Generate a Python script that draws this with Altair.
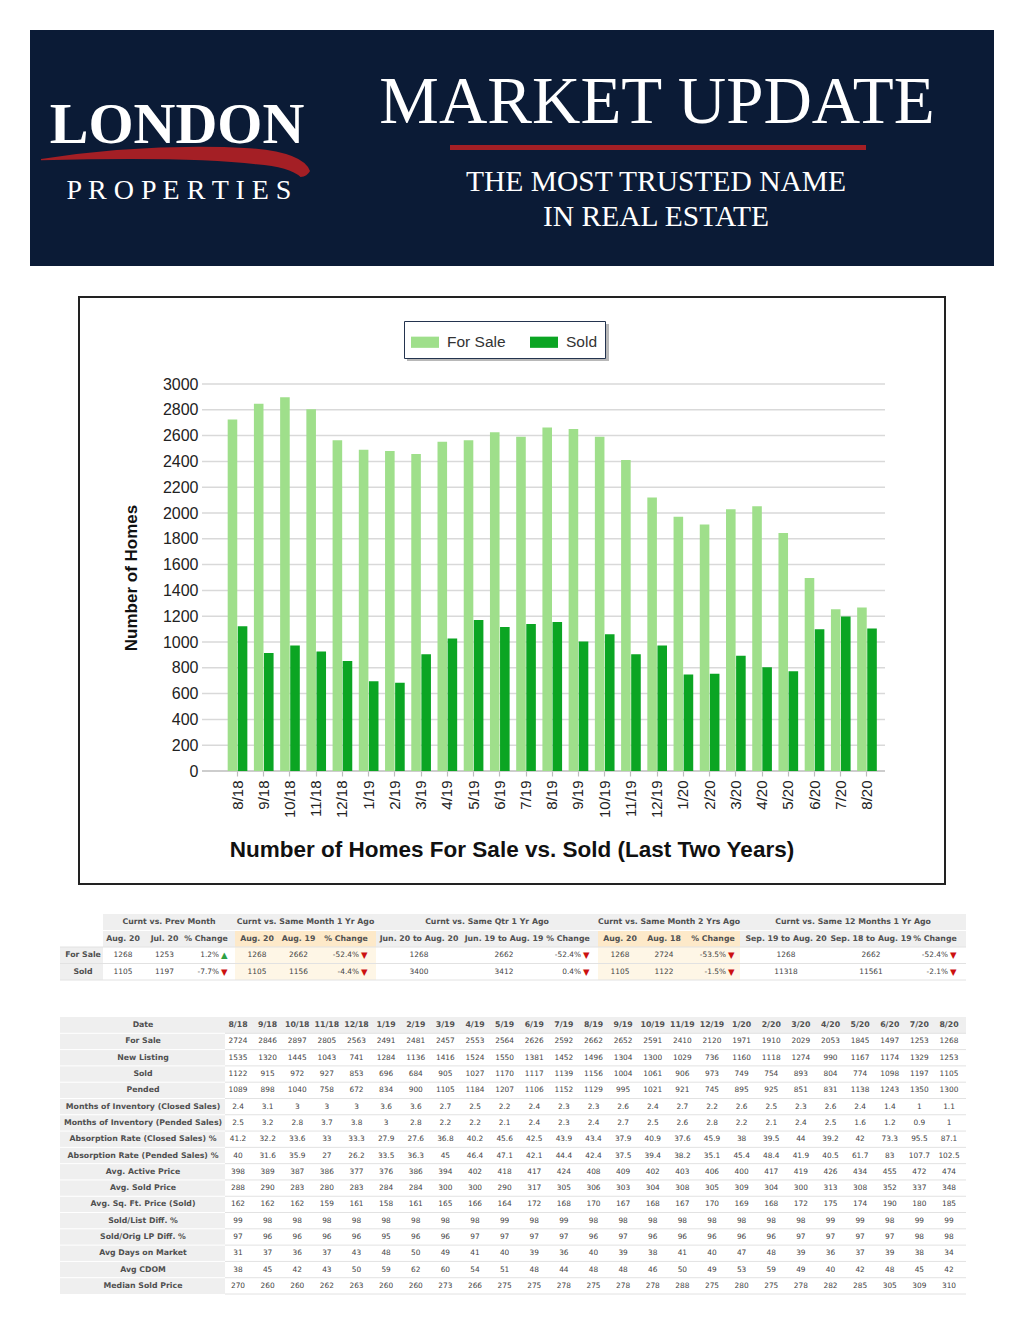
import altair as alt
import pandas as pd

# ---------------- data ----------------
DATES = ["8/18", "9/18", "10/18", "11/18", "12/18", "1/19", "2/19", "3/19", "4/19",
         "5/19", "6/19", "7/19", "8/19", "9/19", "10/19", "11/19", "12/19", "1/20",
         "2/20", "3/20", "4/20", "5/20", "6/20", "7/20", "8/20"]
SERIES = ["For Sale", "Sold"]
FOR_SALE = [2724, 2846, 2897, 2805, 2563, 2491, 2481, 2457, 2553, 2564, 2626, 2592, 2662,
            2652, 2591, 2410, 2120, 1971, 1910, 2029, 2053, 1845, 1497, 1253, 1268]
SOLD = [1122, 915, 972, 927, 853, 696, 684, 905, 1027, 1170, 1117, 1139, 1156, 1004,
        1061, 906, 973, 749, 754, 893, 804, 774, 1098, 1197, 1105]
Y_TICKS = [0, 200, 400, 600, 800, 1000, 1200, 1400, 1600, 1800, 2000, 2200, 2400,
           2600, 2800, 3000]

# summary table
T1_GROUPS = ["Curnt vs. Prev Month", "Curnt vs. Same Month 1 Yr Ago",
             "Curnt vs. Same Qtr 1 Yr Ago", "Curnt vs. Same Month 2 Yrs Ago",
             "Curnt vs. Same 12 Months 1 Yr Ago"]
T1_SUB = [["Aug. 20", "Jul. 20", "% Change"],
          ["Aug. 20", "Aug. 19", "% Change"],
          ["Jun. 20 to Aug. 20", "Jun. 19 to Aug. 19", "% Change"],
          ["Aug. 20", "Aug. 18", "% Change"],
          ["Sep. 19 to Aug. 20", "Sep. 18 to Aug. 19", "% Change"]]
T1_ROW_LABELS = ["For Sale", "Sold"]
T1_FOR_SALE = [["1268", "1253", "1.2%"], ["1268", "2662", "-52.4%"],
               ["1268", "2662", "-52.4%"], ["1268", "2724", "-53.5%"],
               ["1268", "2662", "-52.4%"]]
T1_SOLD = [["1105", "1197", "-7.7%"], ["1105", "1156", "-4.4%"],
           ["3400", "3412", "0.4%"], ["1105", "1122", "-1.5%"],
           ["11318", "11561", "-2.1%"]]
T1_FOR_SALE_DIR = ["up", "down", "down", "down", "down"]
T1_SOLD_DIR = ["down", "down", "down", "down", "down"]

# detail table
T2_LABELS = ["For Sale", "New Listing", "Sold", "Pended",
             "Months of Inventory (Closed Sales)", "Months of Inventory (Pended Sales)",
             "Absorption Rate (Closed Sales) %", "Absorption Rate (Pended Sales) %",
             "Avg. Active Price", "Avg. Sold Price", "Avg. Sq. Ft. Price (Sold)",
             "Sold/List Diff. %", "Sold/Orig LP Diff. %", "Avg Days on Market",
             "Avg CDOM", "Median Sold Price"]
NEW_LISTING = [1535, 1320, 1445, 1043, 741, 1284, 1136, 1416, 1524, 1550, 1381, 1452, 1496,
               1304, 1300, 1029, 736, 1160, 1118, 1274, 990, 1167, 1174, 1329, 1253]
PENDED = [1089, 898, 1040, 758, 672, 834, 900, 1105, 1184, 1207, 1106, 1152, 1129, 995,
          1021, 921, 745, 895, 925, 851, 831, 1138, 1243, 1350, 1300]
MOI_CLOSED = [2.4, 3.1, 3, 3, 3, 3.6, 3.6, 2.7, 2.5, 2.2, 2.4, 2.3, 2.3, 2.6, 2.4, 2.7, 2.2,
              2.6, 2.5, 2.3, 2.6, 2.4, 1.4, 1, 1.1]
MOI_PENDED = [2.5, 3.2, 2.8, 3.7, 3.8, 3, 2.8, 2.2, 2.2, 2.1, 2.4, 2.3, 2.4, 2.7, 2.5, 2.6,
              2.8, 2.2, 2.1, 2.4, 2.5, 1.6, 1.2, 0.9, 1]
ABS_CLOSED = [41.2, 32.2, 33.6, 33, 33.3, 27.9, 27.6, 36.8, 40.2, 45.6, 42.5, 43.9, 43.4,
              37.9, 40.9, 37.6, 45.9, 38, 39.5, 44, 39.2, 42, 73.3, 95.5, 87.1]
ABS_PENDED = [40, 31.6, 35.9, 27, 26.2, 33.5, 36.3, 45, 46.4, 47.1, 42.1, 44.4, 42.4, 37.5,
              39.4, 38.2, 35.1, 45.4, 48.4, 41.9, 40.5, 61.7, 83, 107.7, 102.5]
AVG_ACTIVE = [398, 389, 387, 386, 377, 376, 386, 394, 402, 418, 417, 424, 408, 409, 402, 403,
              406, 400, 417, 419, 426, 434, 455, 472, 474]
AVG_SOLD = [288, 290, 283, 280, 283, 284, 284, 300, 300, 290, 317, 305, 306, 303, 304, 308,
            305, 309, 304, 300, 313, 308, 352, 337, 348]
AVG_SQFT = [162, 162, 162, 159, 161, 158, 161, 165, 166, 164, 172, 168, 170, 167, 168, 167,
            170, 169, 168, 172, 175, 174, 190, 180, 185]
SOLD_LIST = [99, 98, 98, 98, 98, 98, 98, 98, 98, 99, 98, 99, 98, 98, 98, 98, 98, 98, 98, 98,
             99, 99, 98, 99, 99]
SOLD_ORIG = [97, 96, 96, 96, 96, 95, 96, 96, 97, 97, 97, 97, 96, 97, 96, 96, 96, 96, 96, 97,
             97, 97, 97, 98, 98]
DOM = [31, 37, 36, 37, 43, 48, 50, 49, 41, 40, 39, 36, 40, 39, 38, 41, 40, 47, 48, 39, 36,
       37, 39, 38, 34]
CDOM = [38, 45, 42, 43, 50, 59, 62, 60, 54, 51, 48, 44, 48, 48, 46, 50, 49, 53, 59, 49, 40,
        42, 48, 45, 42]
MEDIAN_SOLD = [270, 260, 260, 262, 263, 260, 260, 273, 266, 275, 275, 278, 275, 278, 278,
               288, 275, 280, 275, 278, 282, 285, 305, 309, 310]
T2_VALUES = [FOR_SALE, NEW_LISTING, SOLD, PENDED, MOI_CLOSED, MOI_PENDED, ABS_CLOSED,
             ABS_PENDED, AVG_ACTIVE, AVG_SOLD, AVG_SQFT, SOLD_LIST, SOLD_ORIG, DOM, CDOM,
             MEDIAN_SOLD]

# ---------------- style ----------------
W, H = 1008, 1309


def px(v):
    return v - 8  # page pixel -> canvas pixel


NARROW = "Liberation Sans Narrow, Arial Narrow, Liberation Sans, sans-serif"
SANS = "Liberation Sans, Arial, sans-serif"
SERIF = "Liberation Serif, DejaVu Serif, serif"
TFONT = "DejaVu Sans, Verdana, sans-serif"
NAVY = "#0b1b36"
RED = "#a41f25"
LIGHT_GREEN = "#9fdf8b"
DARK_GREEN = "#0ba523"
GRAY = "#efefef"
ORANGE_H = "#fde9c9"
ORANGE_L = "#fef6e6"
SEP = "#e2e2e2"
LBL = "#505050"
VAL = "#444444"
TB, TN = 7.8, 7.4

one = pd.DataFrame({"a": [0]})


def fixed_text(text, x, y, size, font, color, weight="normal", align="center",
               baseline="alphabetic"):
    return alt.Chart(pd.DataFrame({"t": [text]})).mark_text(
        font=font, fontSize=size, fontWeight=weight, color=color, align=align,
        baseline=baseline).encode(x=alt.value(px(x)), y=alt.value(px(y)), text="t:N")


def deco_rect(x1, x2, y1, y2, **kw):
    return alt.Chart(one).mark_rect(**kw).encode(
        x=alt.value(px(x1)), x2=alt.value(px(x2)), y=alt.value(px(y1)), y2=alt.value(px(y2)))


layers = []

# ---------------- banner ----------------
layers.append(deco_rect(30, 994, 30, 266, fill=NAVY))
SWOOSH = ("M-1,-0.03 Q-0.2,-0.15 0.55,-0.11 Q0.95,-0.08 1,0.06 Q0.98,0.1 0.93,0.105 "
          "Q0.85,0.03 0.6,0.01 Q0.1,-0.05 -1,-0.02 Z")
layers.append(alt.Chart(one).mark_point(shape=SWOOSH, filled=True, color=RED, opacity=1,
                                        size=72361, strokeWidth=0).encode(
    x=alt.value(px(175.5)), y=alt.value(px(163))))
layers.append(fixed_text("LONDON", 177, 143, 58, SERIF, "white", weight="bold"))
layers.append(fixed_text("P R O P E R T I E S", 179, 199, 28, SERIF, "white"))
layers.append(fixed_text("MARKET UPDATE", 657, 123, 67, SERIF, "white"))
layers.append(deco_rect(450, 866, 145, 150, fill=RED))
layers.append(fixed_text("THE MOST TRUSTED NAME", 656, 191, 29.5, SERIF, "white"))
layers.append(fixed_text("IN REAL ESTATE", 656, 226, 29.5, SERIF, "white"))

# ---------------- bar chart ----------------
layers.append(deco_rect(79, 945, 297, 884, fill="white", stroke="#222222", strokeWidth=2))
# legend drop shadow
layers.append(deco_rect(407, 609, 324, 361, fill="#9a9a9a", opacity=0.7))

y_scale = alt.Scale(domain=[0, 3000], range=[px(771), px(384)], nice=False, zero=True)
grid_df = pd.DataFrame({"v": Y_TICKS})
layers.append(alt.Chart(grid_df).transform_filter("datum.v > 0").mark_rule(
    color="#d9d9d9", strokeWidth=1.5).encode(
    y=alt.Y("v:Q", scale=y_scale, axis=None), x=alt.value(px(202)), x2=alt.value(px(885))))
layers.append(alt.Chart(grid_df).transform_filter("datum.v == 0").mark_rule(
    color="#bdbdbd", strokeWidth=1.5).encode(
    y=alt.Y("v:Q", scale=y_scale, axis=None), x=alt.value(px(202)), x2=alt.value(px(885))))

bar_df = pd.DataFrame({
    "date": DATES * 2,
    "series": [SERIES[0]] * len(DATES) + [SERIES[1]] * len(DATES),
    "value": FOR_SALE + SOLD,
})
bars = alt.Chart(bar_df).mark_bar().encode(
    x=alt.X("date:N", sort=DATES,
            scale=alt.Scale(type="band", domain=DATES, range=[px(224.4), px(880.1)],
                            paddingInner=0.25, paddingOuter=0.125),
            axis=alt.Axis(orient="bottom", title=None, offset=px(771) - H, domain=False,
                          ticks=True, tickColor="#bdbdbd", tickSize=5, tickWidth=1.2,
                          labelAngle=-90, labelPadding=4, labelFont=NARROW,
                          labelFontSize=15, labelColor="#222222", labelOverlap=False,
                          labelBound=False, grid=False, zindex=2)),
    xOffset=alt.XOffset("series:N", sort=SERIES,
                        scale=alt.Scale(domain=SERIES, paddingInner=0.05)),
    y=alt.Y("value:Q", scale=y_scale,
            axis=alt.Axis(orient="left", values=Y_TICKS, format="d", offset=-px(202),
                          domain=False, ticks=False, tickSize=0, labelPadding=4,
                          labelFont=NARROW, labelFontSize=16, labelColor="#222222",
                          grid=False, title="Number of Homes", titleFont=SANS,
                          titleFontSize=17, titleFontWeight="bold", titleColor="#111111",
                          titleX=-62, zindex=2)),
    color=alt.Color("series:N", sort=SERIES,
                    scale=alt.Scale(domain=SERIES, range=[LIGHT_GREEN, DARK_GREEN]),
                    legend=alt.Legend(orient="none", legendX=px(404), legendY=px(321),
                                      direction="horizontal", title=None,
                                      symbolType="M-1,-0.4H1V0.4H-1Z", symbolSize=784,
                                      symbolStrokeWidth=0, labelFont=NARROW,
                                      labelFontSize=15.5, labelColor="#333333",
                                      labelOffset=8, columnPadding=24, padding=7,
                                      strokeColor="#24344f", fillColor="white")),
)
layers.append(bars)
layers.append(fixed_text("Number of Homes For Sale vs. Sold (Last Two Years)", 512, 857,
                         22.5, SANS, "#111111", weight="bold"))

# ---------------- summary table ----------------
T1_ROWS = [0, 1, 2, 3]
t1_band = alt.Scale(type="band", domain=T1_ROWS, range=[px(914), px(980)],
                    paddingInner=0, paddingOuter=0)
t1_pt = alt.Scale(type="point", domain=T1_ROWS, range=[px(922.25), px(971.75)], padding=0)
rows1 = pd.DataFrame({"row": T1_ROWS})


def band_rect(df, yscale, flt, x1, x2, fill):
    return alt.Chart(df).transform_filter(flt).mark_rect(fill=fill).encode(
        y=alt.Y("row:O", scale=yscale, axis=None), x=alt.value(px(x1)), x2=alt.value(px(x2)))


def band_sep(df, yscale, flt, x1, x2, color):
    return alt.Chart(df).transform_filter(flt).mark_rule(color=color, strokeWidth=1).encode(
        y=alt.Y("row:O", scale=yscale, axis=None, bandPosition=1),
        x=alt.value(px(x1)), x2=alt.value(px(x2)))


GROUP_SPANS = [(103, 235), (235, 376), (376, 598), (598, 740), (740, 966)]
COL_RANGES = [(123, 206), (257, 346), (419, 568), (620, 713), (786, 935)]
MID_COL_SHIFT = [0, -3, 10.5, -2.5, 10.5]
layers.append(band_rect(rows1, t1_band, "datum.row <= 1", 103, 966, GRAY))
layers.append(band_rect(rows1, t1_band, "datum.row >= 2", 60, 103, GRAY))
for g in (1, 3):
    x1, x2 = GROUP_SPANS[g]
    layers.append(band_rect(rows1, t1_band, "datum.row == 1", x1, x2, ORANGE_H))
    layers.append(band_rect(rows1, t1_band, "datum.row >= 2", x1, x2, ORANGE_L))
layers.append(band_sep(rows1, t1_band, "datum.row == 0", 103, 966, "white"))
layers.append(band_sep(rows1, t1_band, "datum.row >= 1", 60, 966, SEP))

t1_recs = []
for g in range(5):
    t1_recs.append({"grp": g, "row": 0, "col": 1, "text": T1_GROUPS[g], "kind": "group",
                    "dir": "", "arrow": ""})
    for c in range(3):
        t1_recs.append({"grp": g, "row": 1, "col": c, "text": T1_SUB[g][c], "kind": "sub",
                        "dir": "", "arrow": ""})
    for r, vals, dirs in ((2, T1_FOR_SALE, T1_FOR_SALE_DIR), (3, T1_SOLD, T1_SOLD_DIR)):
        for c in range(3):
            d = dirs[g] if c == 2 else ""
            t1_recs.append({"grp": g, "row": r, "col": c, "text": vals[g][c],
                            "kind": "pct" if c == 2 else "val", "dir": d,
                            "arrow": "\u25B2" if d == "up" else ("\u25BC" if d else "")})
t1 = pd.DataFrame(t1_recs)

for g in range(5):
    xs = alt.Scale(type="point", domain=[0, 1, 2], range=[px(COL_RANGES[g][0]),
                                                         px(COL_RANGES[g][1])], padding=0)
    enc = dict(x=alt.X("col:O", scale=xs, axis=None),
               y=alt.Y("row:O", scale=t1_pt, axis=None))
    base = alt.Chart(t1).transform_filter(f"datum.grp == {g}")
    mid = (COL_RANGES[g][0] + COL_RANGES[g][1]) / 2
    span_mid = (GROUP_SPANS[g][0] + GROUP_SPANS[g][1]) / 2
    layers.append(base.transform_filter("datum.kind == 'group'").mark_text(
        font=TFONT, fontSize=TB, fontWeight="bold", color=LBL, baseline="middle",
        dx=span_mid - mid).encode(text="text:N", **enc))
    for c in range(2):
        shift = MID_COL_SHIFT[g] if c == 1 else 0
        layers.append(base.transform_filter(f"datum.kind == 'sub' && datum.col == {c}")
                      .mark_text(font=TFONT, fontSize=TB, fontWeight="bold", color=LBL,
                                 baseline="middle", dx=shift).encode(text="text:N", **enc))
        layers.append(base.transform_filter(f"datum.kind == 'val' && datum.col == {c}")
                      .mark_text(font=TFONT, fontSize=TN, color=VAL, baseline="middle",
                                 dx=shift).encode(text="text:N", **enc))
    layers.append(base.transform_filter("datum.kind == 'sub' && datum.col == 2").mark_text(
        font=TFONT, fontSize=TB, fontWeight="bold", color=LBL, baseline="middle").encode(
        text="text:N", **enc))
    layers.append(base.transform_filter("datum.kind == 'pct'").mark_text(
        font=TFONT, fontSize=TN, color=VAL, baseline="middle", align="right", dx=13).encode(
        text="text:N", **enc))
    layers.append(base.transform_filter("datum.kind == 'pct'").mark_text(
        font=TFONT, fontSize=8.5, baseline="middle", align="left", dx=15).encode(
        text="arrow:N",
        color=alt.condition("datum.dir == 'up'", alt.value("#2ea043"), alt.value("#cc1010")),
        **enc))

t1_labels = pd.DataFrame({"row": [2, 3], "text": T1_ROW_LABELS})
layers.append(alt.Chart(t1_labels).mark_text(
    font=TFONT, fontSize=TB, fontWeight="bold", color=LBL, baseline="middle").encode(
    x=alt.value(px(83)), y=alt.Y("row:O", scale=t1_pt, axis=None), text="text:N"))

# ---------------- detail table ----------------
T2_ROWS = list(range(len(T2_LABELS) + 1))
t2_band = alt.Scale(type="band", domain=T2_ROWS, range=[px(1017), px(1294)],
                    paddingInner=0, paddingOuter=0)
t2_pt = alt.Scale(type="point", domain=T2_ROWS, range=[px(1025.15), px(1285.85)], padding=0)
t2_x = alt.Scale(type="point", domain=DATES, range=[px(238), px(949)], padding=0)
rows2 = pd.DataFrame({"row": T2_ROWS})
layers.append(band_rect(rows2, t2_band, "datum.row == 0", 60, 966, GRAY))
layers.append(band_rect(rows2, t2_band, "datum.row >= 1", 60, 225, GRAY))
layers.append(band_sep(rows2, t2_band, "datum.row < 16", 60, 225, "white"))
layers.append(band_sep(rows2, t2_band, "datum.row >= 0", 225, 966, SEP))

t2_recs = []
for r, (lab, vals) in enumerate(zip(T2_LABELS, T2_VALUES), start=1):
    for d, v in zip(DATES, vals):
        t2_recs.append({"row": r, "date": d, "text": f"{v:g}"})
t2 = pd.DataFrame(t2_recs)
head2 = pd.DataFrame({"row": [0] * len(DATES), "date": DATES})
lab2 = pd.DataFrame({"row": T2_ROWS, "text": ["Date"] + T2_LABELS})

layers.append(alt.Chart(head2).mark_text(
    font=TFONT, fontSize=TB, fontWeight="bold", color=LBL, baseline="middle").encode(
    x=alt.X("date:N", scale=t2_x, axis=None), y=alt.Y("row:O", scale=t2_pt, axis=None),
    text="date:N"))
layers.append(alt.Chart(t2).mark_text(
    font=TFONT, fontSize=TN, color=VAL, baseline="middle").encode(
    x=alt.X("date:N", scale=t2_x, axis=None), y=alt.Y("row:O", scale=t2_pt, axis=None),
    text="text:N"))
layers.append(alt.Chart(lab2).mark_text(
    font=TFONT, fontSize=TB, fontWeight="bold", color=LBL, baseline="middle").encode(
    x=alt.value(px(143)), y=alt.Y("row:O", scale=t2_pt, axis=None), text="text:N"))

chart = alt.layer(*layers).resolve_scale(
    x="independent", y="independent", xOffset="independent"
).properties(
    width=W, height=H, autosize=alt.AutoSizeParams(type="none"), padding=0
).configure_view(stroke=None)

chart.save("out.html", embed_options={"renderer": "svg", "actions": False})
